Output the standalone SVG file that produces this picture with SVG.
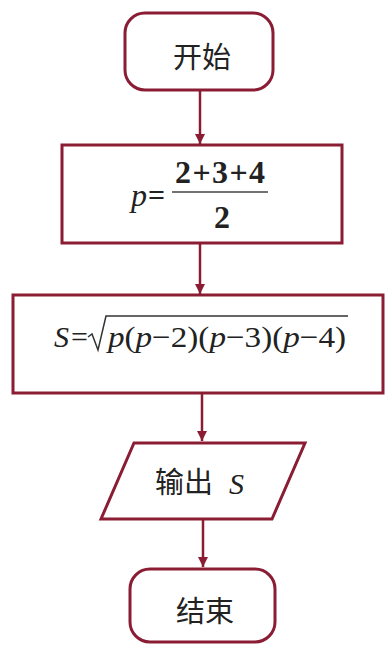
<svg xmlns="http://www.w3.org/2000/svg" width="390" height="646" viewBox="0 0 390 646">
<defs>
<style>
.shape{fill:#fff;stroke:#8a1c33;stroke-width:3}
.conn{stroke:#8a1c33;stroke-width:2.5;fill:none}
.cjk{font-family:"Liberation Serif","Noto Sans CJK SC",serif;font-size:29px;fill:#222}
.math{font-family:"Liberation Serif","DejaVu Serif",serif;fill:#222}
</style>
<marker id="arr" viewBox="0 0 10 10" refX="10" refY="5" markerWidth="4" markerHeight="4.4" orient="auto" markerUnits="strokeWidth">
<path d="M0,0 L10,5 L0,10 Z" fill="#8a1c33"/>
</marker>
</defs>
<rect width="390" height="646" fill="#fff"/>
<g id="connectors">
<line class="conn" x1="200" y1="90" x2="200" y2="144" marker-end="url(#arr)"/>
<line class="conn" x1="200" y1="244" x2="200" y2="294" marker-end="url(#arr)"/>
<line class="conn" x1="202" y1="393" x2="202" y2="441" marker-end="url(#arr)"/>
<line class="conn" x1="203" y1="519" x2="203" y2="567" marker-end="url(#arr)"/>
</g>
<g id="start">
<rect class="shape" x="125" y="13" width="148" height="77" rx="20"/>
<text class="cjk" x="202" y="58" text-anchor="middle" dominant-baseline="central">开始</text>
</g>
<g id="calc-p">
<rect class="shape" x="62" y="145" width="280" height="98"/>
<text class="math" x="131" y="206" font-size="32" font-style="italic">p</text>
<text class="math" x="148" y="205" font-size="30" font-weight="bold">=</text>
<text class="math" x="220" y="183" font-size="32" font-weight="bold" text-anchor="middle" textLength="90">2+3+4</text>
<line x1="172" y1="192" x2="268" y2="192" stroke="#444" stroke-width="1.5"/>
<text class="math" x="222" y="228" font-size="32" font-weight="bold" text-anchor="middle">2</text>
</g>
<g id="calc-s">
<rect class="shape" x="13" y="295" width="370" height="98"/>
<text class="math" x="54" y="347" font-size="30" font-style="italic">S</text>
<text class="math" x="71" y="347" font-size="30">=</text>
<path d="M88,337 L92,334 L98,350 L106,316 L348,316" fill="none" stroke="#333" stroke-width="1.5"/>
<text class="math" x="108" y="347" font-size="30" textLength="238" lengthAdjust="spacingAndGlyphs"><tspan font-style="italic">p</tspan>(<tspan font-style="italic">p</tspan>−2)(<tspan font-style="italic">p</tspan>−3)(<tspan font-style="italic">p</tspan>−4)</text>
</g>
<g id="output">
<polygon class="shape" points="134,443 305,443 272,519 101,519"/>
<text class="cjk" x="184" y="483" text-anchor="middle" dominant-baseline="central">输出</text>
<text class="math" x="229" y="494" font-size="30" font-style="italic">S</text>
</g>
<g id="end">
<rect class="shape" x="130" y="569" width="145" height="73" rx="20"/>
<text class="cjk" x="205" y="612" text-anchor="middle" dominant-baseline="central">结束</text>
</g>
</svg>
